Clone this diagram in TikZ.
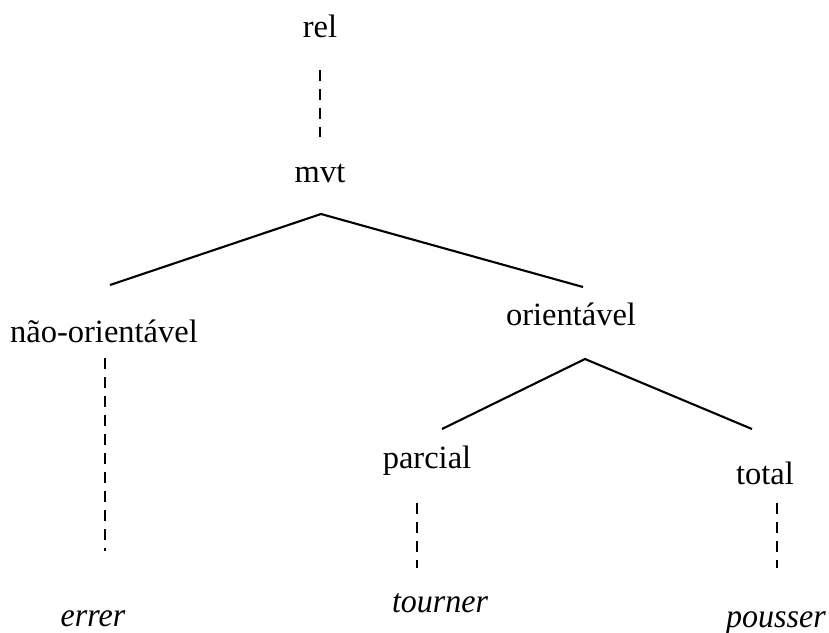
\documentclass[tikz,border=0pt]{standalone}
\usepackage{fontspec}
\setmainfont{Liberation Serif}
\usetikzlibrary{calc}
\begin{document}
\begin{tikzpicture}[x=1pt,y=-1pt,
  lbl/.style={inner sep=0pt,anchor=base,font=\fontsize{32.5}{38}\selectfont},
  ilbl/.style={inner sep=0pt,anchor=base,font=\fontsize{32}{38}\selectfont\itshape},
  solidline/.style={line width=2.1pt},
  dashline/.style={line width=2.5pt,dash pattern=on 11pt off 8pt}]
\useasboundingbox (0,0) rectangle (829,632);
\node[lbl] (rel) at (320,37) {rel};
\node[lbl] (mvt) at (320,182) {mvt};
\node[lbl] (nao) at (104,342) {não-orientável};
\node[lbl] (ori) at (571,325) {orientável};
\node[lbl] (par) at (427,468) {parcial};
\node[lbl] (tot) at (765,484) {total};
\node[ilbl] (err) at (93,626) {\scalebox{1}[1.05]{errer}};
\node[ilbl] (tou) at (440,612) {\scalebox{1}[1.05]{tourner}};
\node[ilbl] (pou) at (776,627) {\scalebox{1}[1.05]{pousser}};
% connector end points
\coordinate (relB) at (320,70);
\coordinate (mvtT) at (320,137);
\coordinate (mvtB) at (321,214);
\coordinate (naoT) at (110,285);
\coordinate (oriT) at (583,287);
\coordinate (naoB) at (105,358);
\coordinate (errT) at (105,551);
\coordinate (oriB) at (585,359);
\coordinate (parT) at (442,429);
\coordinate (totT) at (752,429);
\coordinate (parB) at (417,503);
\coordinate (touT) at (417,568);
\coordinate (totB) at (777,503);
\coordinate (pouT) at (777,568);
\draw[dashline] (relB) -- (mvtT);
\draw[solidline] (naoT) -- (mvtB) -- (oriT);
\draw[dashline] (naoB) -- (errT);
\draw[solidline] (parT) -- (oriB) -- (totT);
\draw[dashline] (parB) -- (touT);
\draw[dashline] (totB) -- (pouT);
\end{tikzpicture}
\end{document}
